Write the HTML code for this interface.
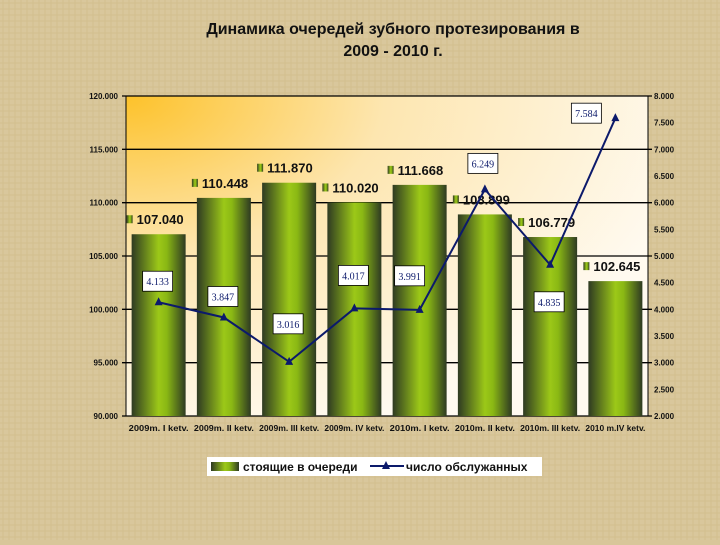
<!DOCTYPE html>
<html><head><meta charset="utf-8"><style>
body{margin:0;width:720px;height:540px;overflow:hidden;background:#d8c69a;font-family:"Liberation Sans",sans-serif}
</style></head><body>
<svg width="720" height="540" id="c" font-family="Liberation Sans, sans-serif">
<defs>
<pattern id="tex" width="6" height="6" patternUnits="userSpaceOnUse"><rect width="6" height="6" fill="#d9c79c"/><path d="M0 3H6M3 0V6" stroke="#cdb985" stroke-width="1" opacity=".6"/></pattern>
<radialGradient id="pg" cx="0" cy="0" r="1.1"><stop offset="0" stop-color="#fdc22a"/><stop offset=".45" stop-color="#fde6b0"/><stop offset="1" stop-color="#fffaf0"/></radialGradient>
<linearGradient id="bg" x1="0" x2="1"><stop offset="0" stop-color="#2e3a22"/><stop offset=".5" stop-color="#9cc818"/><stop offset=".65" stop-color="#8ab814"/><stop offset="1" stop-color="#2e3a22"/></linearGradient>
</defs>
<rect width="720" height="540" fill="url(#tex)"/>
<text x="393" y="34" text-anchor="middle" font-size="16" font-weight="bold" fill="#111">Динамика очередей зубного протезирования в</text>
<text x="393" y="56" text-anchor="middle" font-size="16" font-weight="bold" fill="#111">2009 - 2010 г.</text>
<rect x="126" y="96" width="522" height="320" fill="url(#pg)"/>
<g id="g"></g>
<g>
<rect x="207" y="457" width="335" height="19" fill="#fff"/>
<rect x="211" y="462" width="28" height="9" fill="url(#bg)"/>
<text x="243" y="471" font-size="12" font-weight="bold" fill="#111">стоящие в очереди</text>
<line x1="370" y1="466" x2="404" y2="466" stroke="#0c1a6b" stroke-width="2"/><polygon points="386,461 382,469 390,469" fill="#0c1a6b"/>
<text x="406" y="471" font-size="12" font-weight="bold" fill="#111">число обслужанных</text>
</g>
</svg>
<script>
const categories=["2009m. I ketv.","2009m. II ketv.","2009m. III ketv.","2009m. IV ketv.","2010m. I ketv.","2010m. II ketv.","2010m. III ketv.","2010 m.IV ketv."];
const queue=[107040,110448,111870,110020,111668,108899,106779,102645];
const served=[4.133,3.847,3.016,4.017,3.991,6.249,4.835,7.584];
const leftTicks=[90000,95000,100000,105000,110000,115000,120000];
const rightTicks=[2,2.5,3,3.5,4,4.5,5,5.5,6,6.5,7,7.5,8];
const X0=126,X1=648,Y0=416,Y1=96,NS="http://www.w3.org/2000/svg",g=document.getElementById('g');
const yL=v=>Y0-(v-90000)/30000*(Y0-Y1), yR=v=>Y0-(v-2)/6*(Y0-Y1);
const bw=(X1-X0)/categories.length, xc=i=>X0+bw*(i+.5);
function el(t,a,txt){const e=document.createElementNS(NS,t);for(const k in a)e.setAttribute(k,a[k]);if(txt!=null)e.textContent=txt;g.appendChild(e);return e;}
const fmt=v=>(v/1000).toFixed(3);
leftTicks.forEach(v=>{const l=el('line',{x1:X0-4,x2:X1+4,y1:yL(v),y2:yL(v),stroke:'#000','stroke-width':1.3});


const t=el('text',{x:X0-8,y:yL(v)+3,'font-size':8,'font-weight':'bold','text-anchor':'end',fill:'#111'},fmt(v));

});
rightTicks.forEach(v=>{const t=el('text',{x:X1+6,y:yR(v)+3,'font-size':8,'font-weight':'bold',fill:'#111'},v.toFixed(3));

});
el('line',{x1:X0,x2:X0,y1:Y1,y2:Y0,stroke:'#000'});el('line',{x1:X1,x2:X1,y1:Y1,y2:Y0,stroke:'#000'});
queue.forEach((v,i)=>{const w=54,x=xc(i)-w/2;
const r=el('rect',{x:x,y:yL(v),width:w,height:Y0-yL(v),fill:'url(#bg)'});


el('rect',{x:x-5,y:yL(v)-19,width:6,height:8,fill:'url(#bg)'});
const t=el('text',{x:x+5,y:yL(v)-10,'font-size':13,'font-weight':'bold',fill:'#111'},fmt(v));


const c=el('text',{x:xc(i),y:Y0+15,'font-size':8,'font-weight':'bold','text-anchor':'middle',fill:'#111',textLength:60,lengthAdjust:'spacingAndGlyphs'},categories[i]);

});
const pts=served.map((v,i)=>xc(i)+','+yR(v)).join(' ');
const pl=el('polyline',{points:pts,fill:'none',stroke:'#0c1a6b','stroke-width':2});


// label box offsets (dx,dy from point to box top-left)
const boxOff=[[-16,-31],[-16,-31],[-16,-48],[-16,-43],[-25,-44],[-17,-36],[-16,27],[-44,-15]];
served.forEach((v,i)=>{const x=xc(i),y=yR(v);
const m=el('polygon',{points:`${x},${y-5} ${x-4},${y+3} ${x+4},${y+3}`,fill:'#0c1a6b'});


const bx=x+boxOff[i][0],by=y+boxOff[i][1];
el('rect',{x:bx,y:by,width:30,height:20,fill:'#fff',stroke:'#000','stroke-width':.8});
const t=el('text',{x:bx+15,y:by+14,'font-size':10,'text-anchor':'middle',fill:'#0c1a6b','font-family':'Liberation Serif, serif'},v.toFixed(3));

});
</script>
</body></html>
